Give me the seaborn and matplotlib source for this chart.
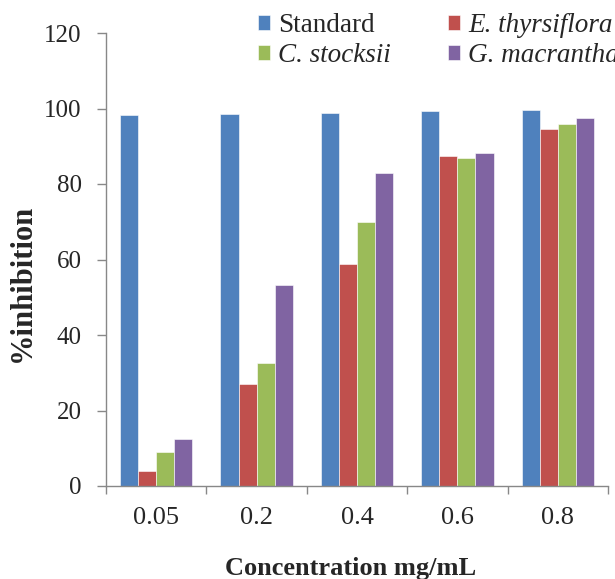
import matplotlib
matplotlib.use("Agg")
import matplotlib.pyplot as plt
import seaborn as sns
import pandas as pd

concentrations = ["0.05", "0.2", "0.4", "0.6", "0.8"]
series_names = ["Standard", "E. thyrsiflora", "C. stocksii", "G. macrantha"]
standard = [98.2, 98.5, 98.9, 99.3, 99.5]
e_thyrsiflora = [4.0, 27.1, 58.7, 87.4, 94.6]
c_stocksii = [8.9, 32.6, 70.0, 87.0, 95.8]
g_macrantha = [12.4, 53.3, 82.8, 88.3, 97.4]
colors = ["#4F81BD", "#C0504D", "#9BBB59", "#8064A2"]

rows = []
for name, vals in zip(series_names, [standard, e_thyrsiflora, c_stocksii, g_macrantha]):
    for c, v in zip(concentrations, vals):
        rows.append({"Concentration": c, "Series": name, "Value": v})
df = pd.DataFrame(rows)

sns.set_style("white")
plt.rcParams["font.family"] = ["Liberation Serif", "DejaVu Serif"]

W, H = 615, 579
fig = plt.figure(figsize=(W / 100, H / 100), dpi=100)
ax = fig.add_axes([106 / W, 1 - 486 / H, (608 - 106) / W, (486 - 33) / H])

sns.barplot(data=df, x="Concentration", y="Value", hue="Series",
            order=concentrations, hue_order=series_names, palette=colors,
            saturation=1, width=0.72, edgecolor="white", linewidth=0.4,
            ax=ax, legend=True)

ax.set_ylim(0, 120)
ax.set_xlim(-0.5, 4.5)
ax.set_yticks(range(0, 121, 20))
ax.tick_params(axis="y", direction="out", length=6.5, width=1, color="#888888",
               labelsize=18, pad=11, left=True)
ax.set_xticks(range(5))
ax.set_xticklabels(concentrations)
ax.tick_params(axis="x", which="major", length=0, labelsize=19, pad=15)
ax.set_xticks([i - 0.5 for i in range(6)], minor=True)
ax.tick_params(axis="x", which="minor", direction="out", length=6, width=1,
               color="#888888", bottom=True)

for s in ["top", "right"]:
    ax.spines[s].set_visible(False)
for s in ["left", "bottom"]:
    ax.spines[s].set_color("#888888")
    ax.spines[s].set_linewidth(1)

ax.set_xlabel("Concentration mg/mL", fontsize=19, fontweight="bold")
ax.set_ylabel("%inhibition", fontsize=22, fontweight="bold")
ax.xaxis.label.set_va("baseline")
ax.xaxis.set_label_coords((351 - 106) / 502, (486 - 575) / 453)
ax.yaxis.label.set_va("center")
ax.yaxis.set_label_coords((22 - 106) / 502, (486 - 283) / 453)

handles, labels = ax.get_legend_handles_labels()
order = [0, 2, 1, 3]
leg = ax.legend([handles[i] for i in order], [labels[i] for i in order],
                ncol=2, frameon=False, fontsize=19.5,
                loc="upper left", bbox_to_anchor=(258 / W, 1 - 13 / H),
                bbox_transform=fig.transFigure,
                handlelength=0.45, handleheight=0.45, handletextpad=0.3,
                columnspacing=2.1, labelspacing=0.2, borderaxespad=0,
                borderpad=0)
for t in leg.get_texts():
    if t.get_text() != "Standard":
        t.set_fontstyle("italic")

fig.savefig("out.png", dpi=100)
